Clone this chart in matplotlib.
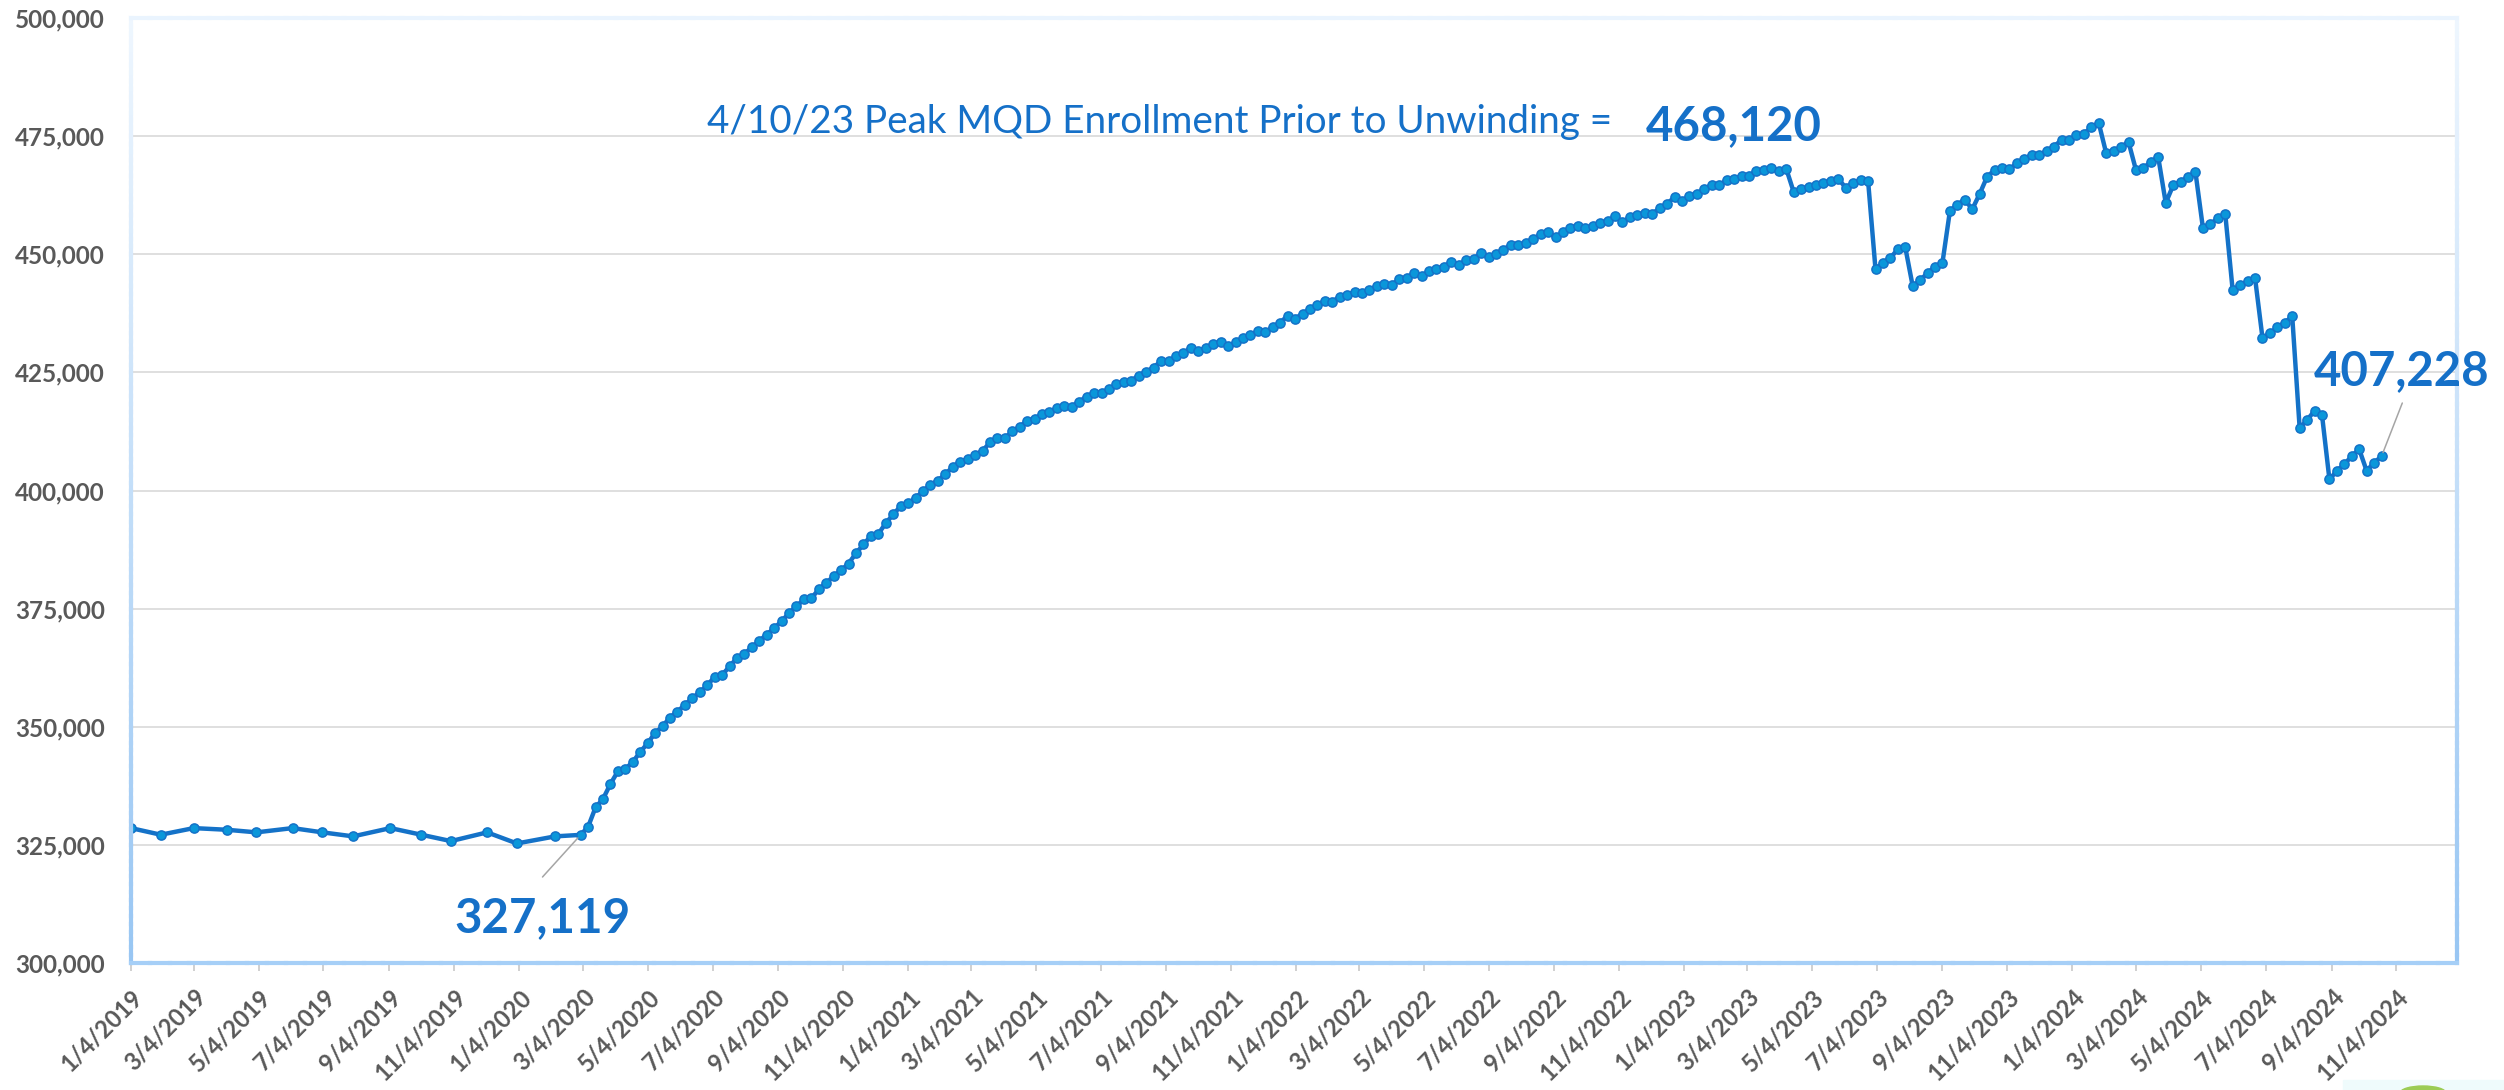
import matplotlib
matplotlib.use('Agg')
import matplotlib.pyplot as plt
import numpy as np
import pandas as pd
from matplotlib.collections import LineCollection
from matplotlib.ticker import FuncFormatter
from matplotlib.patches import Rectangle, Ellipse
from matplotlib.colors import to_rgb

plt.rcParams['font.family'] = ['Lato', 'DejaVu Sans']

# ---------------- data ----------------
monthly_dates = ['2019-01-04', '2019-02-01', '2019-03-04', '2019-04-04', '2019-05-02',
                 '2019-06-05', '2019-07-03', '2019-08-01', '2019-09-05', '2019-10-04',
                 '2019-11-01', '2019-12-05', '2020-01-02', '2020-02-07']
monthly_values = [328550, 327150, 328550, 328200, 327650, 328550, 327650, 326800,
                  328550, 327150, 325800, 327650, 325300, 326800]

weekly_start = '2020-03-02'
weekly_values = [
    327119, 328839, 332935, 334713, 337893, 340566, 341061, 342545, 344665, 346503,
    348694, 350108, 351945, 353218, 354631, 356045, 357317, 358739, 360576, 360929,
    362767, 364534, 365453, 366796, 368210, 369482, 370896, 372309, 374076, 375490,
    376974, 377186, 379095, 380438, 381851, 383124, 384537, 386728, 388573, 390397,
    390821, 393090, 394935, 396695, 397267, 398455, 399812, 401226, 402074, 403480,
    404965, 406089, 406598, 407574, 408358, 410203, 411114, 411050, 412534, 413447,
    414790, 415143, 416133, 416557, 417476, 417900, 417759, 418819, 419879, 420657,
    420600, 421434, 422494, 422989, 423272, 424332, 425180, 426028, 427442, 427371,
    428361, 429138, 430199, 429563, 430128, 431047, 431400, 430482, 431330, 432249,
    432900, 433690, 433480, 434614, 435469, 437036, 436395, 437392, 438390, 439245,
    440170, 439957, 441025, 441452, 441951, 441809, 442378, 443304, 443803, 443589,
    444658, 444943, 446082, 445370, 446439, 446937, 447365, 448362, 447721, 448718,
    449074, 450214, 449501, 450071, 450997, 451994, 451852, 452422, 453277, 454203,
    454701, 453562, 454630, 455556, 456055, 455485, 455983, 456553, 456981, 458049,
    456838, 457835, 458263, 458833, 458619, 459687, 460685, 462109, 461326, 462323,
    462821, 463747, 464744, 464673, 465671, 466027, 466596, 466600, 467665, 467898,
    468324, 467685, 468120, 463211, 463708, 464134, 464560, 465128, 465483, 465980,
    464063, 465128, 465625, 465600, 446805, 448225, 449220, 451066, 451492, 443254,
    444532, 446024, 447373, 448225, 459163, 460512, 461577, 459517, 462785, 466407,
    467827, 468324, 468040, 469247, 470100, 471094, 471000, 471875, 472798, 474219,
    474077, 475213, 475497, 476847, 477770, 471400, 471770, 472730, 473760, 467830,
    468250, 469530, 470490, 460871, 464563, 465344, 466338, 467332, 455546, 456398,
    457605, 458528, 442340, 443405, 444257, 445038, 432329, 433252, 434530, 435524,
    436873, 413172, 414943, 416855, 416005, 402337, 404178, 405524, 407294, 408711,
    404178, 405878, 407228]

tick_labels = ['1/4/2019', '3/4/2019', '5/4/2019', '7/4/2019', '9/4/2019', '11/4/2019',
               '1/4/2020', '3/4/2020', '5/4/2020', '7/4/2020', '9/4/2020', '11/4/2020',
               '1/4/2021', '3/4/2021', '5/4/2021', '7/4/2021', '9/4/2021', '11/4/2021',
               '1/4/2022', '3/4/2022', '5/4/2022', '7/4/2022', '9/4/2022', '11/4/2022',
               '1/4/2023', '3/4/2023', '5/4/2023', '7/4/2023', '9/4/2023', '11/4/2023',
               '1/4/2024', '3/4/2024', '5/4/2024', '7/4/2024', '9/4/2024', '11/4/2024']

peak_text = '4/10/23 Peak MQD Enrollment Prior to Unwinding ='
peak_label = '468,120'
start_label = '327,119'
end_label = '407,228'

# ---------------- build series ----------------
weekly_dates = pd.date_range(weekly_start, periods=len(weekly_values), freq='7D')
dates = pd.to_datetime(monthly_dates).append(weekly_dates)
values = list(monthly_values) + list(weekly_values)
tick_dates = pd.to_datetime(tick_labels, format='%m/%d/%Y')

# ---------------- figure ----------------
W, H = 2504, 1090
fig = plt.figure(figsize=(W / 100, H / 100), dpi=100)
ax = fig.add_axes([131 / W, (H - 963) / H, (2457 - 131) / W, (963 - 18) / H])

LINE = '#1472C8'
FILL = '#0A97DA'
TXT = '#1570C8'
GRAY = '#595959'

ax.plot(dates, values, color=LINE, lw=3.2, marker='o', ms=6.6,
        mfc=FILL, mec=LINE, mew=1.1, zorder=3, solid_joinstyle='round')

ax.set_xlim(pd.Timestamp('2019-01-04'), pd.Timestamp('2024-12-31'))
ax.set_ylim(300000, 500000)
ax.set_yticks(np.arange(300000, 500001, 25000))
ax.yaxis.set_major_formatter(FuncFormatter(lambda v, p: f'{int(v):,}'))
ax.grid(axis='y', color='#d9d9d9', lw=1.2)
ax.set_axisbelow(True)
for s in ax.spines.values():
    s.set_visible(False)

ax.set_xticks(tick_dates)
ax.set_xticklabels(tick_labels, rotation=45, ha='right', va='top',
                   rotation_mode='anchor', fontsize=17, fontweight='bold', color=GRAY)
ax.tick_params(axis='x', length=5.8, width=1.2, color='#c8c8c8', pad=10)
ax.tick_params(axis='y', length=0, pad=19, labelsize=17.5, labelcolor=GRAY)
for lab in ax.get_yticklabels():
    lab.set_fontweight('bold')


# gradient plot-area border
def blend(c0, c1, t):
    a, b = np.array(to_rgb(c0)), np.array(to_rgb(c1))
    return tuple(a + (b - a) * t)


def grad_line(p0, p1, c0, c1, n=120):
    pts = np.linspace(p0, p1, n + 1)
    segs = np.stack([pts[:-1], pts[1:]], axis=1)
    cols = [blend(c0, c1, t) for t in np.linspace(0, 1, n)]
    lc = LineCollection(segs, colors=cols, linewidths=3.0, transform=ax.transAxes,
                        clip_on=False, zorder=5, capstyle='projecting')
    ax.add_collection(lc, autolim=False)


grad_line((0, 0), (0, 1), '#98c6f3', '#eef6fe')
grad_line((1, 0), (1, 1), '#98c6f3', '#eef6fe')
grad_line((0, 0), (1, 0), '#a6cff7', '#a6cff7')
grad_line((0, 1), (1, 1), '#eaf4fe', '#eaf4fe')


# annotation texts, scaled to the measured widths
def fit_text(x_left, baseline, s, width_px, **kw):
    t = fig.text(x_left / W, 1 - baseline / H, s, ha='left', va='baseline', **kw)
    fig.canvas.draw()
    bb = t.get_window_extent()
    t.set_fontsize(t.get_fontsize() * width_px / bb.width)
    return t


fit_text(707, 133, peak_text, 903, fontsize=26, color=TXT)
fit_text(1646, 140, peak_label, 176, fontsize=34, color=TXT, fontweight='bold')
fit_text(454, 932, start_label, 176, fontsize=34, color=TXT, fontweight='bold')
fit_text(2314, 385, end_label, 176, fontsize=34, color=TXT, fontweight='bold')

# leader lines
ax.annotate('', xy=(weekly_dates[0], weekly_values[0]), xycoords='data',
            xytext=(542.5, H - 877), textcoords='figure pixels',
            arrowprops=dict(arrowstyle='-', color='#a5a5a5', lw=1.1, shrinkA=0, shrinkB=3))
ax.annotate('', xy=(weekly_dates[-1], weekly_values[-1]), xycoords='data',
            xytext=(2402.3, H - 403), textcoords='figure pixels',
            arrowprops=dict(arrowstyle='-', color='#a5a5a5', lw=1.1, shrinkA=0, shrinkB=3))

# small logo fragment in the corner
fig.patches.append(Rectangle((2343 / W, 0), 161 / W, 10 / H, transform=fig.transFigure,
                             color='#effbfc', zorder=0))
fig.patches.append(Ellipse((2423 / W, -3 / H), 46 / W, 14 / H, transform=fig.transFigure,
                           color='#9ccc55', zorder=1))

fig.savefig('out.png', dpi=100)
